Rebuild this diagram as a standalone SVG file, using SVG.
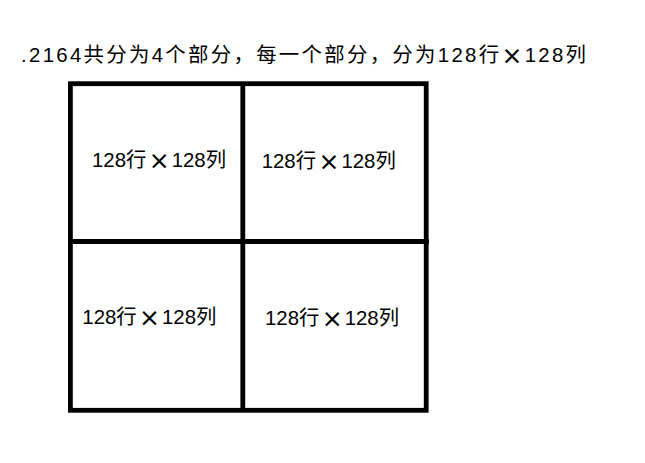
<svg xmlns="http://www.w3.org/2000/svg" width="645" height="463" viewBox="0 0 645 463">
<style>
text{font-family:"Liberation Sans","Noto Sans CJK SC",sans-serif;font-size:20.4px;fill:#000}
.x{font-family:"DejaVu Sans",sans-serif;font-size:25px}
.ln{stroke:#000;stroke-width:4.8;fill:none}
</style>
<rect width="645" height="463" fill="#fff"/>
<text id="title" x="21" y="62" textLength="565" lengthAdjust="spacing">.2164共分为4个部分，每一个部分，分为128行<tspan class="x" dy="2">×</tspan><tspan dy="-2">128列</tspan></text>
<g id="connectors">
<rect class="ln" x="70.4" y="83.7" width="355.8" height="326.6"/>
<line class="ln" x1="242.8" y1="83.7" x2="242.8" y2="410.3"/>
<line class="ln" x1="70.4" y1="241.5" x2="429" y2="241.5"/>
</g>
<g id="cell-tl"><text x="92" y="167">128行<tspan class="x" x="148.7" dy="1.7">×</tspan><tspan x="171.7" dy="-1.7">128列</tspan></text></g>
<g id="cell-tr"><text x="261.7" y="168">128行<tspan class="x" x="318.4" dy="1.7">×</tspan><tspan x="341.4" dy="-1.7">128列</tspan></text></g>
<g id="cell-bl"><text x="82.3" y="324">128行<tspan class="x" x="139" dy="1.7">×</tspan><tspan x="162" dy="-1.7">128列</tspan></text></g>
<g id="cell-br"><text x="265" y="325">128行<tspan class="x" x="321.7" dy="1.7">×</tspan><tspan x="344.7" dy="-1.7">128列</tspan></text></g>
</svg>
